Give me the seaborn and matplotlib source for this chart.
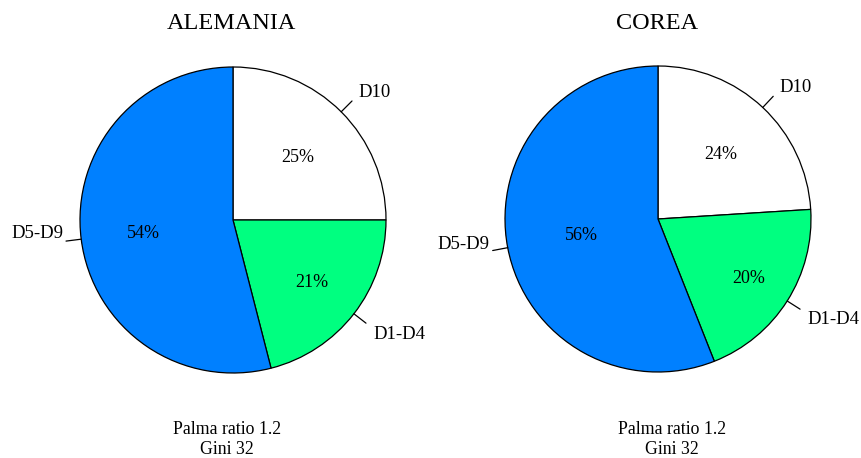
import matplotlib
matplotlib.use("Agg")
import matplotlib.pyplot as plt
import numpy as np
import seaborn as sns

countries = ["ALEMANIA", "COREA"]
groups = ["D10", "D1-D4", "D5-D9"]
shares_alemania = [25, 21, 54]
shares_corea = [24, 20, 56]
palma = ["1.2", "1.2"]
gini = ["32", "32"]

colors = ["#ffffff", "#00ff80", "#0080ff"]
# radial distance of the percentage labels, per pie and slice
pct_radius = [[0.6, 0.65, 0.59], [0.6, 0.7, 0.51]]

sns.set_theme(style="white")
plt.rcParams["font.family"] = ["Liberation Serif", "DejaVu Serif"]
plt.rcParams["text.color"] = "black"

W, H = 862, 458
fig = plt.figure(figsize=(W / 100, H / 100), dpi=100)

R = 153  # pie radius in pixels
L = 1.45
centers = [(233, 220), (658, 219)]
titles_x = [231, 657]
notes_x = [227, 672]


def draw_pie(ax, values, radii):
    wedges, _ = ax.pie(
        values, colors=colors, startangle=90, counterclock=False,
        wedgeprops=dict(edgecolor="black", linewidth=0.9))
    for w, lab, v, rp in zip(wedges, groups, values, radii):
        ang = np.deg2rad((w.theta1 + w.theta2) / 2)
        x, y = np.cos(ang), np.sin(ang)
        ax.text(rp * x, rp * y, f"{v}%", ha="center",
                va="center_baseline", fontsize=13)
        ax.plot([x, 1.1 * x], [y, 1.1 * y], color="black", lw=0.9)
        if x > 0:
            ax.text(1.16 * x, 1.2 * y, lab, ha="left",
                    va="center_baseline", fontsize=13.5)
        else:
            ax.text(1.12 * x, 1.2 * y + 0.072, lab, ha="right",
                    va="center_baseline", fontsize=13.5)
    ax.set_xlim(-L, L)
    ax.set_ylim(-L, L)
    ax.set_aspect("equal")
    ax.axis("off")


for i, values in enumerate([shares_alemania, shares_corea]):
    cx, cy = centers[i]
    size = 2 * L * R
    ax = fig.add_axes([(cx - size / 2) / W, (H - cy - size / 2) / H,
                       size / W, size / H])
    draw_pie(ax, values, pct_radius[i])
    fig.text(titles_x[i] / W, 1 - 21 / H, countries[i], ha="center",
             va="center_baseline", fontsize=17.5)
    fig.text(notes_x[i] / W, 1 - 428 / H, f"Palma ratio {palma[i]}",
             ha="center", va="center_baseline", fontsize=12.8)
    fig.text(notes_x[i] / W, 1 - 447 / H, f"Gini {gini[i]}",
             ha="center", va="center_baseline", fontsize=12.8)

fig.savefig("out.png", dpi=100)
